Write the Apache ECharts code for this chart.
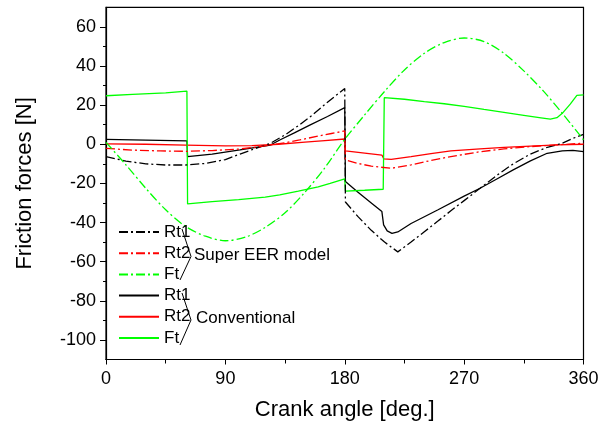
<!DOCTYPE html>
<html>
<head>
<meta charset="utf-8">
<script src="https://cdn.jsdelivr.net/npm/echarts@6/dist/echarts.min.js"></script>
<style>html,body{margin:0;padding:0;background:#fff;}#c{width:610px;height:427px;}</style>
</head>
<body>
<div id="c"></div>
<script>
// ---- data (crank angle [deg], friction force [N]) ----
var eerRt1 = [[0,-6.3],[15,-8.6],[30,-10],[45,-10.6],[60,-10.6],[75,-9.8],[90,-7.8],[101,-5],[112,-2.3],[124,0.5],[135,4.8],[145,9.5],[155,14.6],[167,21.5],[180,28.5],[180.5,-29.5],[190,-37],[200,-44],[210,-50],[220,-55],[230,-50],[240,-44.7],[250,-39.4],[260,-34],[270,-28.8],[282,-22.5],[295,-15.7],[307,-10],[320,-5],[332,-1.7],[344,0.5],[352,3],[360,5]];
var eerRt2 = [[0,-2.1],[20,-3],[41,-3.4],[61,-3.6],[80,-3.2],[101,-2.4],[116,-1.2],[124,-0.4],[135,0.8],[146,2.2],[160,4.2],[170,5.5],[180,6.8],[180.5,-8],[190,-9.8],[200,-11.2],[215,-12.3],[230,-10.5],[245,-8.3],[260,-6.3],[282,-3.8],[300,-2.4],[320,-1.2],[340,-0.3],[357,0.4],[360,0.5]];
var eerFt = [[0,1],[15,-10.5],[30,-22.5],[45,-33.5],[60,-42],[75,-47],[90,-49.3],[105,-47.5],[120,-42.5],[135,-35],[150,-24.5],[165,-12],[180,2.5],[195,15],[210,27],[225,38],[240,46.5],[255,52],[270,54.3],[285,52.5],[300,46.5],[315,37.5],[330,27],[345,15],[360,2.3]];
var convRt1 = [[0,2.5],[30,2.1],[61,1.7],[61.5,-6.3],[80,-5],[101,-2.9],[124,-0.4],[131,2.2],[142,5.8],[154,9.9],[167,14.2],[180,18.7],[180.5,-19],[190,-24.5],[200,-30],[208,-34.4],[209.3,-41.2],[212,-44.3],[215.6,-45.5],[220,-44.8],[230,-40.5],[250,-33.6],[270,-26.5],[282,-22.5],[295,-17.6],[307,-13.1],[320,-8.5],[332.6,-4.6],[344,-3.4],[352,-3.1],[360,-3.8]];
var convRt2 = [[0,0.2],[30,0],[60,-0.4],[90,-0.8],[110,-0.7],[130,0],[150,1.1],[165,1.9],[180,2.7],[180.5,-3.4],[195,-4.5],[208,-5.5],[209.5,-7.5],[215,-7.7],[230,-6.3],[245,-4.8],[260,-3.4],[282,-2.4],[300,-1.6],[320,-0.9],[340,-0.3],[360,0]];
var convFt = [[0,24.8],[20,25.5],[45,26.3],[61,27.2],[61.5,-30.5],[80,-29.3],[100,-28.3],[120,-27],[131,-25.9],[145,-24],[160,-21.8],[169,-20],[180,-17.7],[180.5,-23.9],[195,-23.5],[209,-23],[209.8,23.8],[225,23],[240,21.8],[255,20.7],[270,19.4],[285,17.8],[300,16.3],[315,14.8],[328,13.5],[335,12.8],[340,13.6],[344,15.8],[350,20.5],[355,25],[360,25.2]];
var yMajorTicks = [-100,-80,-60,-40,-20,0,20,40,60];
var yMinorTicks = [-90,-70,-50,-30,-10,10,30,50];
var groupLabels = ['Super EER model','Conventional'];

var FONT = '"Liberation Sans", Arial, sans-serif';
var dashDot = [9,3,2,3];
function mk(name, data, color, dashed, smooth){
  return {name:name, type:'line', data:data, symbol:'none', showSymbol:false, smooth:smooth||false,
    lineStyle:{color:color, width:1.3, type: dashed ? dashDot : 'solid'}, itemStyle:{color:color}, z: dashed?3:2};
}
var series = [
  mk('Rt1 eer', eerRt1, '#000000', true),
  mk('Rt2 eer', eerRt2, '#ff0000', true),
  mk('Ft eer', eerFt, '#00ff00', true, 0.3),
  mk('Rt1 conv', convRt1, '#000000', false),
  mk('Rt2 conv', convRt2, '#ff0000', false),
  mk('Ft conv', convFt, '#00ff00', false)
];

var chart = echarts.init(document.getElementById('c'), null, {renderer:'canvas'});
chart.setOption({
  animation:false,
  backgroundColor:'#ffffff',
  textStyle:{fontFamily:FONT},
  grid:{left:106, right:26.5, top:7.3, bottom:67.5, show:true, borderColor:'#000', borderWidth:1.2, backgroundColor:'transparent'},
  legend:{orient:'vertical', left:113, top:216.5, itemWidth:40, itemHeight:14, itemGap:0.2,
    itemStyle:{opacity:0},
    textStyle:{fontSize:17, color:'#000', fontFamily:FONT, lineHeight:21, padding:[0,0,0,0]},
    formatter:function(n){return n.split(' ')[0];},
    data: series.map(function(s){return s.name;}), selectedMode:false},
  xAxis:{type:'value', min:0, max:360, interval:90,
    name:'Crank angle [deg.]', nameLocation:'middle', nameGap:39,
    nameTextStyle:{fontSize:22, color:'#000', fontFamily:FONT},
    axisLine:{show:true, onZero:false, lineStyle:{color:'#000', width:1.2}},
    axisTick:{show:true, inside:false, length:5, lineStyle:{color:'#000', width:1}},
    minorTick:{show:true, splitNumber:2, length:4, lineStyle:{color:'#000', width:1}},
    axisLabel:{fontSize:18, color:'#000', margin:11, fontFamily:FONT},
    splitLine:{show:false}, minorSplitLine:{show:false}},
  yAxis:[{type:'value', min:-110, max:70,
    name:'Friction forces [N]', nameLocation:'middle', nameGap:70,
    nameTextStyle:{fontSize:22, color:'#000', fontFamily:FONT},
    axisLine:{show:true, onZero:false, lineStyle:{color:'#000', width:1.2}},
    axisTick:{show:true, inside:false, length:6, customValues:yMajorTicks, lineStyle:{color:'#000', width:1}},
    axisLabel:{fontSize:18, color:'#000', margin:10, customValues:yMajorTicks, fontFamily:FONT},
    splitLine:{show:false}},
   {type:'value', min:-110, max:70, position:'left',
    axisLine:{show:false}, axisLabel:{show:false}, splitLine:{show:false},
    axisTick:{show:true, inside:false, length:3, customValues:yMinorTicks, lineStyle:{color:'#000', width:1}}}],
  graphic:[
    {type:'polyline', shape:{points:[[182,229],[191,256.5],[180,280]]}, style:{stroke:'#000', lineWidth:1, fill:null}},
    {type:'polyline', shape:{points:[[182,293],[191,320],[180,345]]}, style:{stroke:'#000', lineWidth:1, fill:null}},
    {type:'text', x:194, y:255, style:{text:groupLabels[0], font:'17px "Liberation Sans", Arial, sans-serif', fill:'#000', verticalAlign:'middle', textVerticalAlign:'middle'}},
    {type:'text', x:196, y:318.5, style:{text:groupLabels[1], font:'17px "Liberation Sans", Arial, sans-serif', fill:'#000', verticalAlign:'middle', textVerticalAlign:'middle'}}
  ],
  series:series
});
</script>
</body>
</html>
